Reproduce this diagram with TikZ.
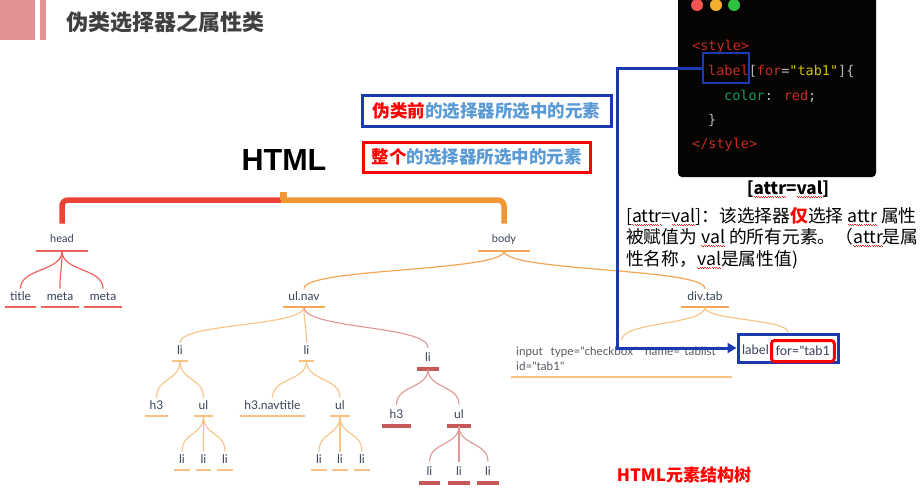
\documentclass[tikz,border=0pt]{standalone}
\usepackage{fontspec}
\usetikzlibrary{arrows.meta,calc}
\setmainfont{Noto Sans CJK SC}
\newfontfamily\cjk{Noto Sans CJK SC}
\newfontfamily\treefont{Lato}
\newfontfamily\codefont{DejaVu Sans Mono}
\newfontfamily\arialfont{Liberation Sans}

\definecolor{hdrpink}{RGB}{226,146,146}
\definecolor{titlegray}{RGB}{64,64,64}
\definecolor{codebg}{RGB}{6,3,3}
\definecolor{codered}{RGB}{200,44,32}
\definecolor{codeyellow}{RGB}{205,195,0}
\definecolor{codegreen}{RGB}{16,160,90}
\definecolor{codegray}{RGB}{185,185,185}
\definecolor{dotred}{RGB}{240,84,80}
\definecolor{dotyellow}{RGB}{245,176,48}
\definecolor{dotgreen}{RGB}{48,192,64}
\definecolor{linkblue}{RGB}{28,58,176}
\definecolor{softblue}{RGB}{91,155,213}
\definecolor{treetext}{RGB}{55,66,84}
\definecolor{inputgray}{RGB}{85,91,99}
\definecolor{headred}{RGB}{238,98,92}
\definecolor{brkred}{RGB}{236,66,56}
\definecolor{brkorange}{RGB}{242,150,50}
\definecolor{bodyorange}{RGB}{245,166,85}
\definecolor{lightorange}{RGB}{248,194,130}
\definecolor{deepred}{RGB}{198,88,88}
\definecolor{pinkline}{RGB}{222,150,150}
\definecolor{spellred}{RGB}{230,40,40}

% red wavy underline as used by a spell checker
\newcommand\squig[1]{\setbox0=\hbox{#1}\rlap{\textcolor{spellred}{\hbox to\wd0{\xleaders\hbox{\rule[-2.4pt]{1.1pt}{0.8pt}\rule[-3.3pt]{1.1pt}{0.8pt}}\hfill}}}\box0\relax}

% a curved branch from a parent's underline to a child's label
\newcommand\treebranch[3]{\draw[#1] (#2.south) .. controls ($(#2.south)!0.55!(#2.south|-#3.north)$) and ($(#3.north)!0.55!(#3.north|-#2.south)$) .. (#3.north);}

\tikzset{
  tn/.style={anchor=south, font=\treefont\fontsize{12}{14}\selectfont, text=treetext,
    inner xsep=0, inner ysep=3.5, text height=8.5, text depth=2.5},
  toptn/.style={tn, font=\treefont\fontsize{11}{12}\selectfont, inner ysep=6},
  redtn/.style={tn, inner ysep=5},
  code/.style={anchor=base west, inner sep=0, font=\codefont\fontsize{13.5}{16}\selectfont},
  cjkbold/.style={font=\cjk\bfseries\fontsize{17.5}{20}\selectfont},
  desc/.style={anchor=base west, inner sep=0, font=\cjk\fontsize{17.75}{20}\selectfont},
  headcurve/.style={headred, line width=1.2},
  bodycurve/.style={bodyorange, line width=1.2},
  lightcurve/.style={lightorange, line width=1.1},
  pinkcurve/.style={pinkline, line width=1.1},
}

\begin{document}
\begin{tikzpicture}[x=1pt,y=-1pt]
\useasboundingbox (0,0) rectangle (924,493);
\begin{scope}
\clip (0,0) rectangle (924,493);

% page header
\fill[hdrpink] (0,0) rectangle (35,40);
\fill[hdrpink] (40,0) rectangle (46,40);
\node[anchor=base west, inner sep=0, text=titlegray, font=\cjk\bfseries\fontsize{22}{24}\selectfont] (title) at (66,30.5) {伪类选择器之属性类};

% code window
\fill[codebg, rounded corners=4] (678,-10) rectangle (876,177);
\fill[dotred] (697,5) circle (6);
\fill[dotyellow] (716,5) circle (6);
\fill[dotgreen] (734,5) circle (6);
\node[code] (cs1) at (692,50.5) {\textcolor{codered}{<style>}};
\node[code] (cs2) at (708,75.5) {\textcolor{codered}{label}\textcolor{codegray}{[}\textcolor{codered}{for}\textcolor{codegray}{=}\textcolor{codeyellow}{"tab1"}\textcolor{codegray}{]\{}};
\node[code] (cs3) at (724,100) {\textcolor{codegreen}{color}\textcolor{codegray}{:} \textcolor{codered}{red}\textcolor{codegray}{;}};
\node[code] (cs4) at (708,124.5) {\textcolor{codegray}{\}}};
\node[code] (cs5) at (692,148.5) {\textcolor{codered}{</style>}};
\node[draw=linkblue, line width=2, minimum width=46, minimum height=30, inner sep=0] (codelab) at (726,68) {};

% explanation text
\node[anchor=base, inner sep=0, font=\cjk\bfseries\fontsize{17}{20}\selectfont] (attrhead) at (788,194) {[\squig{attr}=\squig{val}]};
\node[desc] (desc1) at (626,222) {[\squig{attr}=\squig{val}]：该选择器{\bfseries\color{red}仅}选择 \squig{attr} 属性};
\node[desc] (desc2) at (626,243.5) {被赋值为 \squig{val} 的所有元素。（\squig{attr}是属};
\node[desc] (desc3) at (626,265) {性名称，\squig{val}是属性值)};

% two legend boxes
\node[draw=linkblue, line width=3, minimum width=249, minimum height=31, inner sep=0, cjkbold] (before) at (486.5,110.5) {\textcolor{red}{伪类前}\textcolor{softblue}{的选择器所选中的元素}};
\node[draw=red, line width=3, minimum width=227, minimum height=30, inner sep=0, cjkbold] (whole) at (476.5,157) {\textcolor{red}{整个}\textcolor{softblue}{的选择器所选中的元素}};

\node[inner sep=0, font=\arialfont\bfseries\fontsize{30.5}{32}\selectfont] (html) at (284,160.5) {HTML};

% tree nodes
\node[toptn, minimum width=52] (head) at (62,251) {head};
\node[toptn, minimum width=52] (body) at (504,251) {body};
\node[tn, minimum width=31] (ttl) at (20.5,307) {title};
\node[tn, minimum width=38] (meta1) at (60,307) {meta};
\node[tn, minimum width=38] (meta2) at (103,307) {meta};
\node[tn, minimum width=42] (ulnav) at (304,307) {ul.nav};
\node[tn, minimum width=48] (divtab) at (705,307) {div.tab};
\node[tn, minimum width=16] (li1) at (180,361) {li};
\node[tn, minimum width=15] (li2) at (306.5,361) {li};
\node[redtn, minimum width=22] (li3) at (428,369) {li};
\node[tn, minimum width=23] (h3a) at (156.5,416) {h3};
\node[tn, minimum width=19] (ula) at (203.5,416) {ul};
\node[tn, minimum width=16] (la1) at (182,470) {li};
\node[tn, minimum width=15] (la2) at (203.5,470) {li};
\node[tn, minimum width=16] (la3) at (225,470) {li};
\node[tn, minimum width=65] (h3n) at (272.5,416) {h3.navtitle};
\node[tn, minimum width=20] (ulb) at (340,416) {ul};
\node[tn, minimum width=16] (lb1) at (319,470) {li};
\node[tn, minimum width=16] (lb2) at (340,470) {li};
\node[tn, minimum width=16] (lb3) at (362,470) {li};
\node[redtn, minimum width=29] (h3c) at (396.5,426) {h3};
\node[redtn, minimum width=24] (ulc) at (459,426) {ul};
\node[redtn, minimum width=21] (lc1) at (429.5,483) {li};
\node[redtn, minimum width=22] (lc2) at (459,483) {li};
\node[redtn, minimum width=22] (lc3) at (488,483) {li};
\node[anchor=south west, text width=211, inner xsep=5, inner ysep=6.5, align=left, text=inputgray,
      font=\treefont\fontsize{11.7}{15}\selectfont] (inp) at (511,377)
      {\mbox{input\ \ type="checkbox"\ \ name="tablist"}\\id="tab1"};
\node[draw=linkblue, line width=3, minimum width=100, minimum height=28, inner sep=0] (lab) at (788,348) {};
\node[anchor=base, inner sep=0, font=\treefont\fontsize{13}{14}\selectfont, text=treetext] (labtxt) at (755.5,354) {label};
\node[anchor=west, draw=red, line width=3, rounded corners=3, inner xsep=4, inner ysep=0, minimum height=21,
      font=\treefont\fontsize{13}{14}\selectfont, text=treetext] (forbox) at (770,351) {for="tab1};

% underlines
\foreach \n in {head,ttl,meta1,meta2} \draw[headred, line width=2] (\n.south west) -- (\n.south east);
\foreach \n in {body,ulnav,divtab} \draw[bodyorange, line width=2.5] (\n.south west) -- (\n.south east);
\foreach \n in {li1,li2,h3a,ula,la1,la2,la3,h3n,ulb,lb1,lb2,lb3} \draw[lightorange, line width=1.8] (\n.south west) -- (\n.south east);
\foreach \n in {li3,h3c,ulc,lc1,lc2,lc3} \draw[deepred, line width=4] (\n.south west) -- (\n.south east);
\draw[lightorange, line width=1.3] (inp.south west) -- (inp.south east);

% root bracket
\coordinate (brk) at (281,200);
\draw[brkred, line width=5.5, rounded corners=6] ([yshift=4]head.north) |- (brk);
\draw[brkorange, line width=5.5, rounded corners=6] (brk) -| ([yshift=4]body.north);
\fill[brkorange] (280,192) rectangle (287,200);

% branches
\treebranch{headcurve}{head}{ttl}
\treebranch{headcurve}{head}{meta1}
\treebranch{headcurve}{head}{meta2}
\treebranch{bodycurve}{body}{ulnav}
\treebranch{bodycurve}{body}{divtab}
\treebranch{lightcurve}{ulnav}{li1}
\treebranch{lightcurve}{ulnav}{li2}
\treebranch{pinkcurve}{ulnav}{li3}
\treebranch{lightcurve}{li1}{h3a}
\treebranch{lightcurve}{li1}{ula}
\treebranch{lightcurve}{ula}{la1}
\treebranch{lightcurve}{ula}{la2}
\treebranch{lightcurve}{ula}{la3}
\treebranch{lightcurve}{li2}{h3n}
\treebranch{lightcurve}{li2}{ulb}
\treebranch{lightcurve}{ulb}{lb1}
\treebranch{lightcurve}{ulb}{lb2}
\treebranch{lightcurve}{ulb}{lb3}
\treebranch{pinkcurve}{li3}{h3c}
\treebranch{pinkcurve}{li3}{ulc}
\treebranch{pinkcurve}{ulc}{lc1}
\treebranch{pinkcurve}{ulc}{lc2}
\treebranch{pinkcurve}{ulc}{lc3}
\treebranch{lightcurve}{divtab}{inp}
\treebranch{lightcurve}{divtab}{lab}

% selector link from the code to the matched element
\draw[linkblue, line width=3, -{Triangle[length=9,width=10]}] (codelab.west) -- ++(-85,0) |- (lab.west);

\node[anchor=base, inner sep=0, text=red, font=\cjk\bfseries\fontsize{17}{20}\selectfont] (caption) at (684,481) {HTML元素结构树};
\end{scope}
\end{tikzpicture}
\end{document}
